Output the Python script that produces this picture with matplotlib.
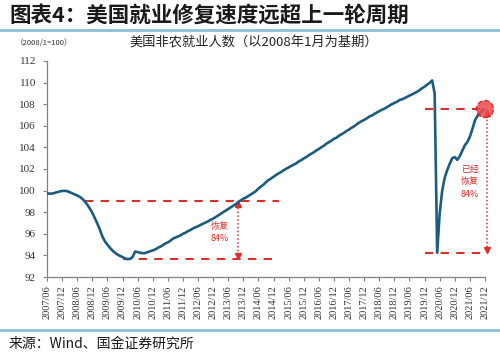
import matplotlib
matplotlib.use("Agg")
import matplotlib.pyplot as plt
from matplotlib.lines import Line2D
import numpy as np

plt.rcParams['font.family'] = ['Noto Sans CJK SC', 'DejaVu Sans']

# ---------------- data ----------------
# x tick labels (every 6 months, 2007/06 .. 2021/12)
tick_labels = ["2007/06", "2007/12", "2008/06", "2008/12", "2009/06", "2009/12",
               "2010/06", "2010/12", "2011/06", "2011/12", "2012/06", "2012/12",
               "2013/06", "2013/12", "2014/06", "2014/12", "2015/06", "2015/12",
               "2016/06", "2016/12", "2017/06", "2017/12", "2018/06", "2018/12",
               "2019/06", "2019/12", "2020/06", "2020/12", "2021/06", "2021/12"]

# monthly nonfarm payroll index (2008/1 = 100), one value per month from 2007/06
payroll_index = [
    99.75, 99.72, 99.72, 99.78, 99.85, 99.92, 99.96, 99.98, 99.95, 99.85, 99.75, 99.65,
    99.55, 99.42, 99.25, 99.00, 98.70, 98.35, 97.95, 97.45, 96.95, 96.40, 95.75, 95.30,
    95.00, 94.70, 94.45, 94.25, 94.08, 93.95, 93.85, 93.72, 93.65, 93.68, 93.85, 94.35,
    94.30, 94.25, 94.20, 94.22, 94.30, 94.38, 94.45, 94.55, 94.70, 94.80, 94.95, 95.10,
    95.20, 95.35, 95.55, 95.65, 95.75, 95.85, 96.00, 96.10, 96.25, 96.35, 96.50, 96.60,
    96.70, 96.82, 96.95, 97.05, 97.15, 97.30, 97.40, 97.55, 97.70, 97.85, 98.00, 98.15,
    98.30, 98.45, 98.60, 98.75, 98.95, 99.10, 99.25, 99.35, 99.50, 99.65, 99.80, 99.95,
    100.20, 100.38, 100.55, 100.78, 100.98, 101.12, 101.28, 101.45, 101.58, 101.72, 101.88, 102.02,
    102.15, 102.28, 102.40, 102.52, 102.70, 102.82, 102.98, 103.10, 103.28, 103.42, 103.55, 103.72,
    103.85, 104.02, 104.15, 104.35, 104.48, 104.62, 104.80, 104.90, 105.08, 105.22, 105.35, 105.52,
    105.65, 105.82, 105.95, 106.12, 106.30, 106.42, 106.55, 106.68, 106.85, 106.95, 107.10, 107.22,
    107.35, 107.48, 107.58, 107.72, 107.85, 108.00, 108.12, 108.22, 108.38, 108.45, 108.55, 108.68,
    108.80, 108.90, 109.02, 109.15, 109.30, 109.48, 109.62, 109.80, 109.98, 110.20, 109.00, 94.25,
    97.90, 100.00, 101.20, 101.90, 102.50, 103.00, 103.10, 102.85, 103.20, 103.70, 104.20, 104.50,
    105.00, 105.70, 106.50, 106.90, 107.20, 107.45, 107.55,
]

# annotation levels
gfc_peak, gfc_trough, gfc_recovered = 100.0, 93.65, 99.0
covid_peak, covid_trough, covid_now = 110.2, 94.25, 107.55
recover_text_1 = "恢复\n84%"
recover_text_2 = "已经\n恢复\n84%"

# ---------------- figure ----------------
W, H = 500, 353
fig = plt.figure(figsize=(W / 100, H / 100), dpi=100)
fig.patch.set_facecolor('white')

def px(x, y):
    return x / W, 1 - y / H

# header
fig.text(*px(9, 15), "图表4：美国就业修复速度远超上一轮周期", fontsize=15.5,
         fontweight='bold', color='#1a1a1a', va='center', ha='left')
fig.add_artist(Line2D([0, 1], [1 - 30 / H] * 2, color='#8CBFD4', lw=2.0,
                      transform=fig.transFigure))
fig.text(*px(16, 43), "（2008/1=100）", fontsize=5.5, color='#333333',
         va='center', ha='left')
fig.text(*px(254, 43), "美国非农就业人数（以2008年1月为基期）", fontsize=9.5,
         color='#222222', va='center', ha='center')

# footer
fig.add_artist(Line2D([0, 1], [1 - 330 / H] * 2, color='#8CBFD4', lw=2.0,
                      transform=fig.transFigure))
fig.text(*px(9, 344), "来源：Wind、国金证券研究所", fontsize=10,
         color='#1a1a1a', va='center', ha='left')

# axes
ax = fig.add_axes([47 / W, 1 - 277 / H, (485 - 47) / W, 216 / H])
x = np.arange(len(payroll_index))
line_color = '#1D5C7E'
red = '#D9302C'
ax.plot(x, payroll_index, color=line_color, lw=1.9, solid_joinstyle='round', zorder=3)

ax.set_xlim(0, 174)
ax.set_ylim(92, 112)
ax.set_yticks(np.arange(92, 113, 2))
ax.set_xticks(np.arange(0, 175, 6))
ax.set_xticklabels(tick_labels, rotation=90, family='Liberation Serif',
                   fontsize=7.5, color='#333333')
for lbl in ax.get_yticklabels():
    lbl.set_family('Liberation Serif')
    lbl.set_fontsize(8)
    lbl.set_color('#333333')
ax.tick_params(axis='both', direction='out', length=3, width=0.8, color='#808080')
ax.tick_params(axis='y', pad=5)
ax.tick_params(axis='x', pad=3)
for s in ['top', 'right']:
    ax.spines[s].set_visible(False)
for s in ['left', 'bottom']:
    ax.spines[s].set_color('#808080')
    ax.spines[s].set_linewidth(0.9)

dash_kw = dict(color=red, lw=1.5, dashes=(4, 3.5), zorder=2, clip_on=False)
# GFC cycle
ax.plot([15, 92], [gfc_recovered, gfc_recovered], **dash_kw)
ax.plot([30, 90], [gfc_trough, gfc_trough], **dash_kw)
ax.plot([76, 76], [gfc_recovered - 0.2, gfc_trough + 0.2], color=red, lw=1.1,
        ls=(0, (1, 1.5)), zorder=2)
ax.plot(76, gfc_recovered - 0.25, marker='^', color=red, ms=4, zorder=2)
ax.plot(76, gfc_trough + 0.25, marker='v', color=red, ms=4, zorder=2)
ax.text(68.5, 96.1, recover_text_1, color=red, fontsize=6.5, ha='center',
        va='center', linespacing=1.5)

# COVID cycle
ax.plot([150, 175.2], [covid_now, covid_now], **dash_kw)
ax.plot([150, 175.2], [covid_trough, covid_trough], **dash_kw)
ax.plot([174.8, 174.8], [covid_now - 0.3, covid_trough + 0.2], color=red, lw=1.1,
        ls=(0, (1, 1.5)), zorder=2, clip_on=False)
ax.plot(174.8, covid_now - 0.35, marker='^', color=red, ms=4, zorder=2, clip_on=False)
ax.plot(174.8, covid_trough + 0.25, marker='v', color=red, ms=4, zorder=2, clip_on=False)
ax.scatter([174], [covid_now], s=150, facecolor='#F04848', alpha=0.85,
           edgecolor='#C02020', linewidths=1.0, linestyle='--', zorder=4, clip_on=False)
ax.text(168, 100.8, recover_text_2, color=red, fontsize=6.5, ha='center',
        va='center', linespacing=1.5)

fig.savefig('out.png', dpi=100, facecolor='white')
